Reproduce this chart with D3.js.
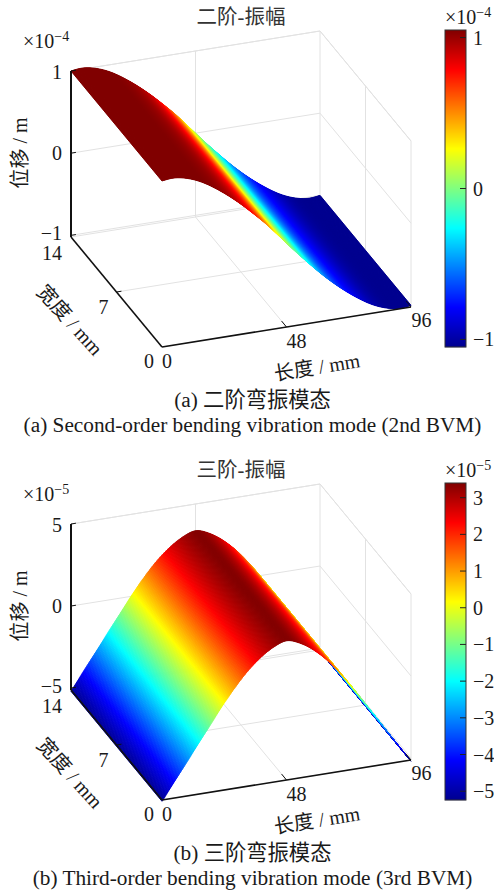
<!DOCTYPE html>
<html>
<head>
<meta charset="utf-8">
<script src="https://cdnjs.cloudflare.com/ajax/libs/d3/7.8.5/d3.min.js"></script>
<style>
  html, body { margin: 0; padding: 0; background: #fff; }
  text { font-family: "Liberation Serif", "Noto Sans CJK SC", serif; fill: #1a1a1a; }
</style>
</head>
<body>
<div id="svg-holder"></div>
<script>
// amplitude along the length, one value every 4 mm (x = 0..96)
const lengthTicks = [0, 48, 96];
const widthTicks = [0, 7, 14];

const secondMode = [1.0, 1.02, 1.0, 0.96, 0.9, 0.82, 0.73, 0.63, 0.52, 0.4, 0.28, 0.14, 0,
  -0.14, -0.27, -0.4, -0.52, -0.63, -0.73, -0.82, -0.9, -0.96, -1.0, -1.02, -1.0];
// the first surface's shading runs steeper than its height, so it is read on its own
const secondShade = [1.05, 1.05, 1.05, 1.05, 1.05, 1.03, 1.0, 0.94, 0.85, 0.72, 0.5, 0.26, 0.08,
  -0.09, -0.26, -0.43, -0.58, -0.7, -0.79, -0.88, -0.96, -1.02, -1.05, -1.05, -1.05];
const thirdMode = [-5.2, -4.3, -3.4, -2.5, -1.6, -0.7, 0.2, 1.0, 1.75, 2.35, 2.85, 3.2, 3.45,
  3.2, 2.85, 2.35, 1.75, 1.0, 0.2, -0.7, -1.6, -2.5, -3.4, -4.3, -5.2];

const secondZTicks = [-1, 0, 1];
const thirdZTicks = [-5, 0, 5];
const secondBarTicks = [-1, 0, 1];
const thirdBarTicks = [-5, -4, -3, -2, -1, 0, 1, 2, 3];

const jetStops = [0, 0.125, 0.375, 0.625, 0.875, 1];
const jetColors = ["#00008f", "#0000ff", "#00ffff", "#ffff00", "#ff0000", "#800000"];
const jet = d3.scaleLinear().domain(jetStops).range(jetColors).interpolate(d3.interpolateRgb);

let svg = d3.select("#svg-holder").append("svg")
  .attr("width", 494)
  .attr("height", 892)
  .style("display", "block");

const fmt = v => String(v).replace("-", "\u2212");

function exponent(g, x, y, text) {
  let t = g.append("text").attr("x", x).attr("y", y).attr("font-size", 20);
  t.append("tspan").text("\u00d710");
  t.append("tspan").attr("dy", -7).attr("font-size", 14).text(text);
}

function drawPanel(opt) {
  let g = svg.append("g").attr("transform", `translate(0,${opt.dy})`);

  // projected box: each scale gives the screen shift of one data axis
  const xs = d3.scaleLinear().domain([0, 96]).range([0, 1]);
  const ys = d3.scaleLinear().domain([0, 14]).range([0, 1]);
  const zs = d3.scaleLinear().domain(opt.zDomain).range([0, 166]);
  const px = (x, y) => 162 + 249 * xs(x) - 91 * ys(y);
  const py = (x, y, z) => 347 - 40 * xs(x) - 110 * ys(y) - zs(z);
  const [zLo, zHi] = opt.zDomain;

  const seg = (a, b, color, w) => g.append("line")
    .attr("x1", px(a[0], a[1])).attr("y1", py(a[0], a[1], a[2]))
    .attr("x2", px(b[0], b[1])).attr("y2", py(b[0], b[1], b[2]))
    .attr("stroke", color).attr("stroke-width", w);

  // grid on the two walls and the floor
  const gridColor = "#e2e2e2";
  opt.zTicks.concat([zHi]).forEach(z => {
    seg([0, 14, z], [96, 14, z], gridColor, 1);
    seg([96, 14, z], [96, 0, z], gridColor, 1);
  });
  lengthTicks.slice(1).forEach(x => {
    seg([x, 14, zLo], [x, 14, zHi], gridColor, 1);
    seg([x, 0, zLo], [x, 14, zLo], gridColor, 1);
  });
  widthTicks.slice(0, 2).forEach(y => {
    seg([96, y, zLo], [96, y, zHi], gridColor, 1);
    seg([0, y, zLo], [96, y, zLo], gridColor, 1);
  });
  seg([0, 14, zLo], [96, 14, zLo], gridColor, 1);

  // surface, far strips first
  const shape = d3.interpolateBasis(opt.values);
  const shade = d3.interpolateBasis(opt.shades);
  const zAt = x => shape(xs(x));
  const color = d3.scaleLinear().domain(opt.barDomain).range([0, 1]);
  const step = 0.25;
  const strips = d3.range(96 - step, -step / 2, -step);
  g.append("g").selectAll("polygon").data(strips).join("polygon")
    .attr("points", x => {
      let x2 = x + step;
      return [[x, 0], [x2, 0], [x2, 14], [x, 14]]
        .map(p => `${px(p[0], p[1])},${py(p[0], p[1], zAt(p[0]))}`).join(" ");
    })
    .attr("fill", x => jet(color(shade(xs(x + step / 2)))))
    .attr("stroke", x => jet(color(shade(xs(x + step / 2)))))
    .attr("stroke-width", 1);

  // axes
  seg([0, 14, zLo], [0, 14, zHi], "#111", 2);
  seg([0, 14, zLo], [0, 0, zLo], "#111", 1.6);
  seg([0, 0, zLo], [96, 0, zLo], "#111", 1.6);

  // ticks
  opt.zTicks.forEach(z => seg([0, 14, z], [1.9, 14, z], "#111", 1));
  seg([0, 7, zLo], [1.9, 7, zLo], "#111", 1);
  seg([48, 0, zLo], [48, 0.75, zLo], "#111", 1);
  seg([96, 0, zLo], [96, 0.75, zLo], "#111", 1);

  const label = (x, y, text, anchor, size) => g.append("text")
    .attr("x", x).attr("y", y).attr("dy", "0.35em")
    .attr("text-anchor", anchor || "middle")
    .attr("font-size", size || 20).text(text);

  opt.zTicks.forEach((z, i) => {
    label(62, [232.5, 153, 72][i], fmt(z), "end");
  });
  label(62, 252.5, "14", "end");
  label(103.5, 307, "7");
  label(149, 361, "0");
  label(167, 361, "0");
  label(296.5, 341, "48");
  label(421.5, 320, "96");

  exponent(g, 23, 48, opt.exp);
  label(241, 17, opt.title, "middle", 20.5).style("fill", "#333");

  const rotated = (x, y, deg, text) => g.append("text")
    .attr("transform", `translate(${x},${y}) rotate(${deg})`)
    .attr("dy", "0.35em").attr("text-anchor", "middle")
    .attr("font-size", 20).text(text);
  rotated(20, 153, -90, "位移 / m");
  rotated(70, 320, 48, "宽度 / mm");
  rotated(317, 367, -9, "长度 / mm");

  label(252.5, 400, opt.cap1, "middle", 21.3);
  label(252.5, 425, opt.cap2, "middle", 21.3);

  // colorbar
  const barY = d3.scaleLinear().domain(opt.barDomain).range([347, 30]);
  g.append("g").selectAll("rect").data(d3.range(30, 347)).join("rect")
    .attr("x", 445).attr("y", d => d).attr("width", 21).attr("height", 1.2)
    .attr("fill", d => jet(color(barY.invert(d + 0.5))));
  g.append("rect")
    .attr("x", 445).attr("y", 30).attr("width", 21).attr("height", 317)
    .attr("fill", "none").attr("stroke", "#333").attr("stroke-width", 1);
  opt.barTicks.forEach(v => {
    g.append("line")
      .attr("x1", 460).attr("x2", 466)
      .attr("y1", barY(v)).attr("y2", barY(v))
      .attr("stroke", "#222").attr("stroke-width", 1);
    label(473, barY(v), fmt(v), "start");
  });
  exponent(g, 445, 24, opt.exp);
}

drawPanel({
  dy: 0,
  values: secondMode,
  shades: secondShade,
  zDomain: [-1.02, 1],
  zTicks: secondZTicks,
  barDomain: [-1.05, 1.05],
  barTicks: secondBarTicks,
  exp: "\u22124",
  title: "二阶-振幅",
  cap1: "(a) 二阶弯振模态",
  cap2: "(a) Second-order bending vibration mode (2nd BVM)"
});

drawPanel({
  dy: 453,
  values: thirdMode,
  shades: thirdMode,
  zDomain: [-5.12, 5],
  zTicks: thirdZTicks,
  barDomain: [-5.24, 3.4],
  barTicks: thirdBarTicks,
  exp: "\u22125",
  title: "三阶-振幅",
  cap1: "(b) 三阶弯振模态",
  cap2: "(b) Third-order bending vibration mode (3rd BVM)"
});
</script>
</body>
</html>
